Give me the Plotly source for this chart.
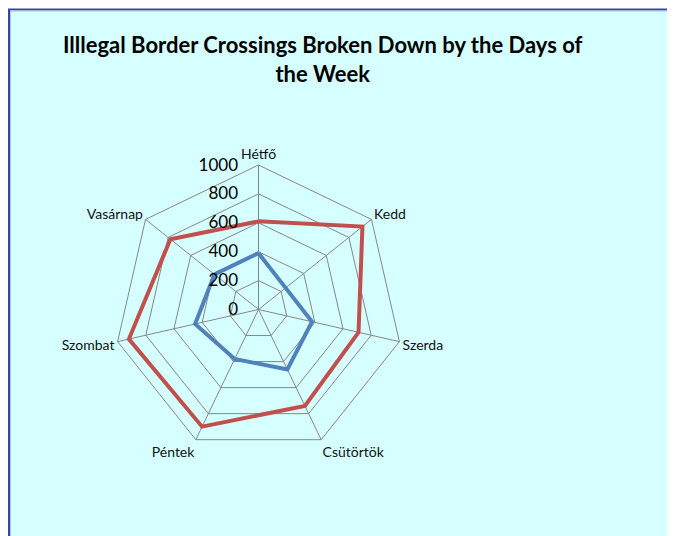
import plotly.graph_objects as go

days = ["Hétfő", "Kedd", "Szerda", "Csütörtök", "Péntek", "Szombat", "Vasárnap"]
series_red = [610, 920, 710, 740, 900, 920, 780]
series_blue = [390, 240, 380, 460, 380, 450, 390]
radial_ticks = [0, 200, 400, 600, 800, 1000]
title_text = "Illlegal Border Crossings Broken Down by the Days of<br>the Week"

# the page has an 8px body margin, so the figure is 8px smaller and all
# page positions below are converted by subtracting 8
OFF = 8
W, H = 675 - OFF, 536 - OFF
BG = "#D6FFFF"

def px(x):
    return (x - OFF) / W

def py(y):
    return 1 - (y - OFF) / H

# desired centre and radius of the heptagon (page pixels)
cx, cy, R = 258.5, 309.5, 144.5

fig = go.Figure()
for vals, col, name in [(series_blue, "#4F81BD", "Series 1"), (series_red, "#C0504D", "Series 2")]:
    fig.add_trace(go.Scatterpolar(
        r=vals + vals[:1], theta=days + days[:1], mode="lines",
        line=dict(color=col, width=4), name=name, showlegend=False,
    ))

shapes = [
    dict(type="rect", xref="paper", yref="paper", x0=px(9), x1=px(680), y0=py(540), y1=py(9.5),
         fillcolor=BG, line=dict(color="#3A45A0", width=2), layer="below"),
    dict(type="line", xref="paper", yref="paper", x0=px(10.5), x1=px(10.5), y0=py(540), y1=py(11),
         line=dict(color="#A8C4EA", width=1), layer="below"),
    dict(type="line", xref="paper", yref="paper", x0=px(10), x1=px(668), y0=py(11), y1=py(11),
         line=dict(color="#A8C4EA", width=1), layer="below"),
]
greys = ["#C8EDED", "#B6DCDC", "#A6CACA", "#98BABA", "#8CAAAA", "#829C9C", "#7A9090", "#7A9090"]
for i, g in enumerate(greys):
    shapes.append(dict(type="rect", xref="paper", yref="paper", x0=px(668 + i), x1=px(669 + i),
                       y0=py(540), y1=py(12), fillcolor=g, line=dict(width=0), layer="below"))

fig.update_layout(
    width=W, height=H,
    margin=dict(l=0, r=0, t=0, b=0),
    paper_bgcolor="white",
    font=dict(family="Lato, 'Noto Sans', sans-serif", color="#111111"),
    shapes=shapes,
    annotations=[dict(text="<b>" + title_text + "</b>", xref="paper", yref="paper",
                      x=px(322.5), y=py(59), xanchor="center", yanchor="middle", showarrow=False,
                      font=dict(size=22, color="#000000"), align="center")],
    polar=dict(
        domain=dict(x=[px(cx - R), px(cx + R)], y=[py(cy + R), py(cy - R)]),
        bgcolor="rgba(0,0,0,0)",
        gridshape="linear",
        angularaxis=dict(
            rotation=90, direction="clockwise", categoryarray=days, type="category",
            showline=True, linecolor="#868686", linewidth=1,
            gridcolor="#868686", gridwidth=1, ticks="",
            tickfont=dict(size=14, color="#111111"),
        ),
        radialaxis=dict(
            range=[0, 1000], tickvals=radial_ticks, angle=90, tickangle=90,
            showline=False, gridcolor="#868686", gridwidth=1,
            ticks="outside", ticklen=14, tickcolor="rgba(0,0,0,0)",
            tickfont=dict(size=17, color="#000000"), side="counterclockwise",
        ),
    ),
)

fig.write_html("out.html")
